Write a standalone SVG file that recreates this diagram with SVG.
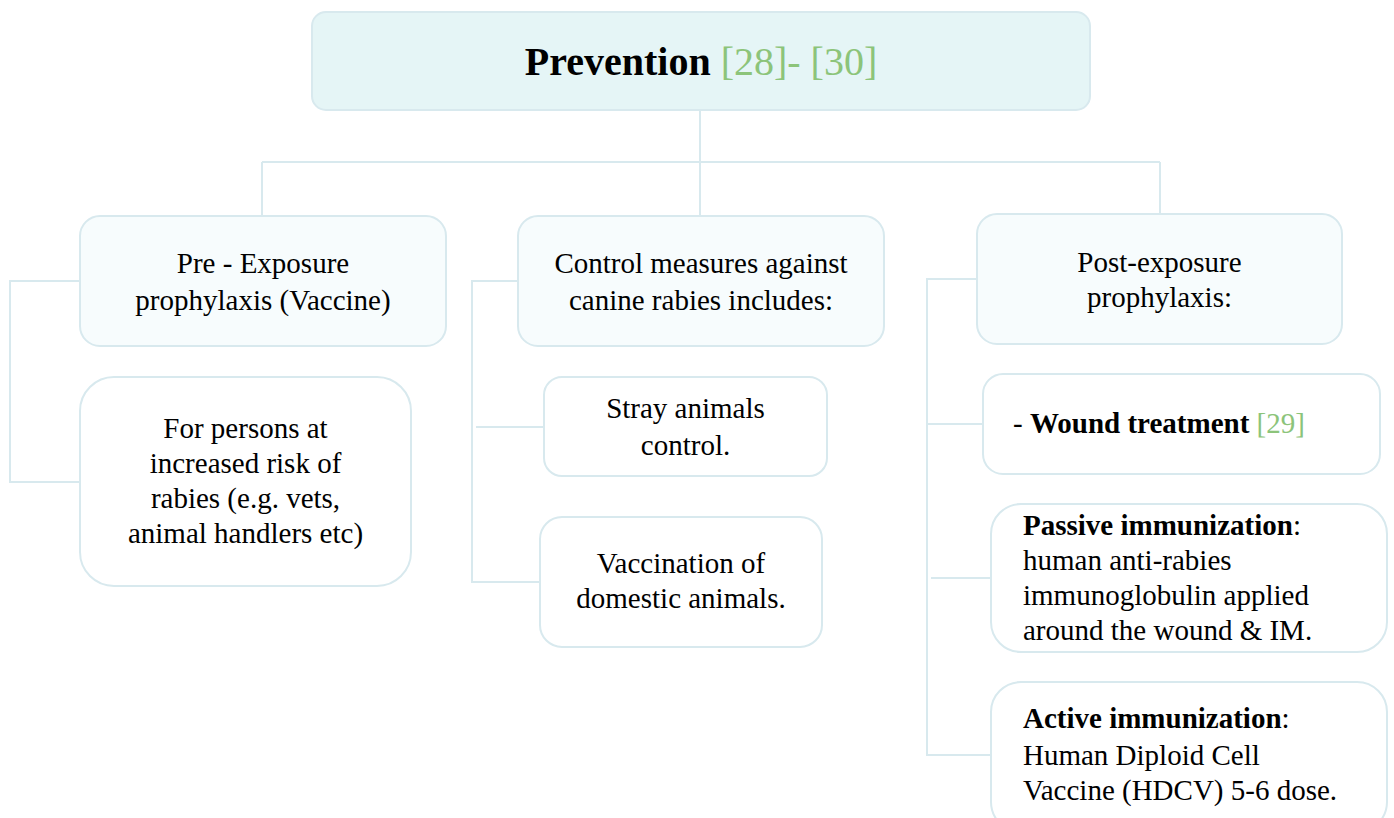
<svg xmlns="http://www.w3.org/2000/svg" width="1394" height="818" viewBox="0 0 1394 818">
<style>
.box{stroke:#d8e9ee;stroke-width:2}
.root{fill:#e5f5f6}
.mid{fill:#f7fcfd}
.leaf{fill:#ffffff}
.conn{fill:none;stroke:#d8e9ee;stroke-width:2}
text{font-family:"Liberation Serif","Times New Roman",serif;font-size:29px;fill:#000}
.c{text-anchor:middle}
.b{font-weight:bold}
.ref{fill:#8cc47a;font-weight:normal}
</style>
<rect width="1394" height="818" fill="#ffffff"/>
<g id="connectors">
<path class="conn" d="M700 110 V162 M262 162 H1160 M262 162 V216 M700 162 V216 M1160 162 V214"/>
<path class="conn" d="M80 281 H10 V482 H80"/>
<path class="conn" d="M518 281 H472 V582 H540 M476 427 H544"/>
<path class="conn" d="M977 279 H927 V755 H991 M927 424 H983 M931 578 H991"/>
</g>
<g id="root">
<rect class="box root" x="312" y="12" width="778" height="98" rx="14"/>
<text class="c" x="701" y="75" style="font-size:40px"><tspan class="b">Prevention</tspan><tspan class="ref"> [28]- [30]</tspan></text>
</g>
<g id="pre">
<rect class="box mid" x="80" y="216" width="366" height="130" rx="20"/>
<text class="c" x="263" y="273">Pre - Exposure</text>
<text class="c" x="263" y="310">prophylaxis (Vaccine)</text>
</g>
<g id="persons">
<rect class="box leaf" x="80" y="377" width="331" height="209" rx="34"/>
<text class="c" x="245.5" y="438">For persons at</text>
<text class="c" x="245.5" y="473">increased risk of</text>
<text class="c" x="245.5" y="508">rabies (e.g. vets,</text>
<text class="c" x="245.5" y="543">animal handlers etc)</text>
</g>
<g id="control">
<rect class="box mid" x="518" y="216" width="366" height="130" rx="20"/>
<text class="c" x="701" y="273">Control measures against</text>
<text class="c" x="701" y="310">canine rabies includes:</text>
</g>
<g id="stray">
<rect class="box leaf" x="544" y="377" width="283" height="99" rx="18"/>
<text class="c" x="685.5" y="418">Stray animals</text>
<text class="c" x="685.5" y="455">control.</text>
</g>
<g id="vaccination">
<rect class="box leaf" x="540" y="517" width="282" height="130" rx="22"/>
<text class="c" x="681" y="573">Vaccination of</text>
<text class="c" x="681" y="608">domestic animals.</text>
</g>
<g id="post">
<rect class="box mid" x="977" y="214" width="365" height="130" rx="20"/>
<text class="c" x="1159.5" y="272">Post-exposure</text>
<text class="c" x="1159.5" y="307">prophylaxis:</text>
</g>
<g id="wound">
<rect class="box leaf" x="983" y="374" width="397" height="100" rx="20"/>
<text x="1013" y="433">- <tspan class="b">Wound treatment</tspan><tspan class="ref"> [29]</tspan></text>
</g>
<g id="passive">
<rect class="box leaf" x="991" y="504" width="396" height="148" rx="30"/>
<text x="1023" y="535"><tspan class="b">Passive immunization</tspan>:</text>
<text x="1023" y="570">human anti-rabies</text>
<text x="1023" y="605">immunoglobulin applied</text>
<text x="1023" y="640">around the wound &amp; IM.</text>
</g>
<g id="active">
<rect class="box leaf" x="991" y="682" width="396" height="150" rx="30"/>
<text x="1023" y="728"><tspan class="b">Active immunization</tspan>:</text>
<text x="1023" y="765">Human Diploid Cell</text>
<text x="1023" y="800">Vaccine (HDCV) 5-6 dose.</text>
</g>
</svg>
